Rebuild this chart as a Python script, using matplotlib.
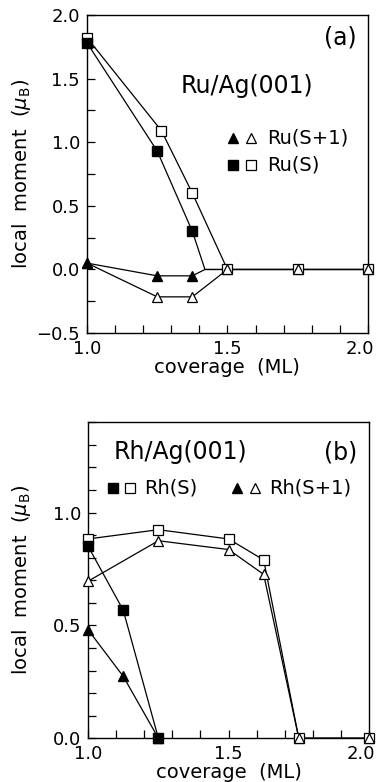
import numpy as np
import matplotlib
matplotlib.use("Agg")
import matplotlib.pyplot as plt
import matplotlib.transforms as mtransforms
from matplotlib.ticker import MultipleLocator

# ---- panel (a): Ru/Ag(001)
ru_s_fill_x = [1.0, 1.25, 1.375, 1.42, 1.5, 1.75, 2.0]
ru_s_fill_y = [1.78, 0.93, 0.30, 0.0, 0.0, 0.0, 0.0]
ru_s_open_x = [1.0, 1.265, 1.375, 1.5, 1.75, 2.0]
ru_s_open_y = [1.82, 1.09, 0.60, 0.0, 0.0, 0.0]
ru_s1_fill_x = [1.0, 1.25, 1.375, 1.42, 1.5]
ru_s1_fill_y = [0.05, -0.05, -0.05, 0.0, 0.0]
ru_s1_open_x = [1.0, 1.25, 1.375, 1.5, 1.75, 2.0]
ru_s1_open_y = [0.05, -0.215, -0.215, 0.0, 0.0, 0.0]

# ---- panel (b): Rh/Ag(001)
rh_s_fill_x = [1.0, 1.125, 1.25]
rh_s_fill_y = [0.85, 0.567, 0.0]
rh_s_open_x = [1.0, 1.25, 1.5, 1.625, 1.75, 2.0]
rh_s_open_y = [0.883, 0.924, 0.883, 0.79, 0.0, 0.0]
rh_s1_fill_x = [1.0, 1.125, 1.25]
rh_s1_fill_y = [0.48, 0.274, 0.0]
rh_s1_open_x = [1.0, 1.25, 1.5, 1.625, 1.75, 2.0]
rh_s1_open_y = [0.696, 0.875, 0.836, 0.726, 0.0, 0.0]

plt.rcParams['font.family'] = ['DejaVu Sans']
plt.rcParams['mathtext.fontset'] = 'dejavusans'

fig = plt.figure(figsize=(3.8, 7.82), dpi=100)
axa = fig.add_axes([0.229, 0.574, 0.739, 0.407])
axb = fig.add_axes([0.232, 0.056, 0.739, 0.404])

ms = 6.5


def fill_line(ax, x, y, m, unfilled=False, mark_idx=None):
    ax.plot(x, y, '-', color='black', lw=0.9, zorder=2)
    if mark_idx is None:
        mark_idx = range(len(x))
    xs = [x[i] for i in mark_idx]
    ys = [y[i] for i in mark_idx]
    if unfilled:
        ax.plot(xs, ys, m, ls='none', mfc='white', mec='black', mew=0.9, ms=ms, zorder=3)
    else:
        ax.plot(xs, ys, m, ls='none', color='black', ms=ms, zorder=4)


def style(ax, ylim, ymajor, yminor, ylab_x):
    ax.set_xlim(1.0, 2.0)
    ax.set_ylim(*ylim)
    ax.xaxis.set_major_locator(MultipleLocator(0.5))
    ax.xaxis.set_minor_locator(MultipleLocator(0.1))
    ax.yaxis.set_major_locator(MultipleLocator(ymajor))
    ax.yaxis.set_minor_locator(MultipleLocator(yminor))
    ax.tick_params(which='both', direction='in', length=6, width=0.9,
                   top=False, right=False, labelsize=13, pad=5)
    for s in ax.spines.values():
        s.set_linewidth(1.0)
    ax.set_xlabel('coverage  (ML)', fontsize=14, labelpad=0)
    ax.set_ylabel(r'local  moment  ($\mu_{\rm B}$)', fontsize=14)
    ax.yaxis.set_label_coords(ylab_x, 0.5)
    ax.xaxis.set_major_formatter(plt.FuncFormatter(lambda v, p: '%.1f' % v))
    ax.yaxis.set_major_formatter(plt.FuncFormatter(lambda v, p: ('%.1f' % v).replace('-', '\u2212')))


# panel (a)
fill_line(axa, ru_s_open_x, ru_s_open_y, 's', unfilled=True)
fill_line(axa, ru_s1_open_x, ru_s1_open_y, '^', unfilled=True)
fill_line(axa, ru_s_fill_x, ru_s_fill_y, 's', mark_idx=[0, 1, 2])
fill_line(axa, ru_s1_fill_x, ru_s1_fill_y, '^', mark_idx=[0, 1, 2])
style(axa, (-0.5, 2.0), 0.5, 0.25, -0.192)
axa.text(0.96, 0.93, '(a)', transform=axa.transAxes, fontsize=17, ha='right', va='center')
axa.text(0.57, 0.775, 'Ru/Ag(001)', transform=axa.transAxes, fontsize=17, ha='center', va='center')
axa.plot([1.52], [1.03], '^', color='black', ms=ms)
axa.plot([1.585], [1.03], '^', mfc='white', mec='black', mew=0.9, ms=ms)
axa.text(1.64, 1.03, 'Ru(S+1)', fontsize=14, va='center')
axa.plot([1.52], [0.82], 's', color='black', ms=ms)
axa.plot([1.585], [0.82], 's', mfc='white', mec='black', mew=0.9, ms=ms)
axa.text(1.64, 0.82, 'Ru(S)', fontsize=14, va='center')

# panel (b)
fill_line(axb, rh_s_open_x, rh_s_open_y, 's', unfilled=True)
fill_line(axb, rh_s1_open_x, rh_s1_open_y, '^', unfilled=True)
fill_line(axb, rh_s_fill_x, rh_s_fill_y, 's')
fill_line(axb, rh_s1_fill_x, rh_s1_fill_y, '^')
style(axb, (0.0, 1.4), 0.5, 0.1, -0.196)
axb.text(0.96, 0.905, '(b)', transform=axb.transAxes, fontsize=17, ha='right', va='center')
axb.text(0.09, 0.905, 'Rh/Ag(001)', transform=axb.transAxes, fontsize=17, ha='left', va='center')
axb.plot([1.09], [1.11], 's', color='black', ms=ms)
axb.plot([1.15], [1.11], 's', mfc='white', mec='black', mew=0.9, ms=ms)
axb.text(1.2, 1.11, 'Rh(S)', fontsize=14, va='center')
axb.plot([1.53], [1.11], '^', color='black', ms=ms)
axb.plot([1.595], [1.11], '^', mfc='white', mec='black', mew=0.9, ms=ms)
axb.text(1.645, 1.11, 'Rh(S+1)', fontsize=14, va='center')

for ax in (axa, axb):
    for ln in ax.lines:
        ln.set_clip_on(False)

fig.canvas.draw()
# the last x label (2.0) sits a little left of its tick, like in the original
shift = mtransforms.ScaledTranslation(-6 / 72, 0, fig.dpi_scale_trans)
for ax in (axa, axb):
    for lab in ax.get_xticklabels():
        if lab.get_text() == '2.0':
            lab.set_transform(lab.get_transform() + shift)

fig.savefig('out.png', dpi=100)
